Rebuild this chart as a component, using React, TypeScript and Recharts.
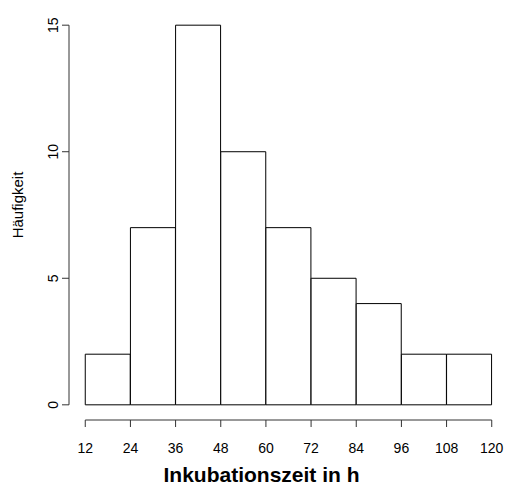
import React from 'react';
import { ComposedChart, Bar, XAxis, YAxis, ReferenceLine } from 'recharts';

// Histogramm der Inkubationszeiten (Klassenbreite 12 h)
const binStarts = [12, 24, 36, 48, 60, 72, 84, 96, 108];
const counts = [2, 7, 15, 10, 7, 5, 4, 2, 2];
const xTicks = [12, 24, 36, 48, 60, 72, 84, 96, 108, 120];
const yTicks = [0, 5, 10, 15];

const binWidth = binStarts[1] - binStarts[0];
const data = binStarts.map((start, i) => ({ mid: start + binWidth / 2, count: counts[i] }));

// R-style axis range: data range extended by 4% on each side
const xPad = (xTicks[xTicks.length - 1] - xTicks[0]) * 0.04;
const yPad = (yTicks[yTicks.length - 1] - yTicks[0]) * 0.04;
const xDomain = [xTicks[0] - xPad, xTicks[xTicks.length - 1] + xPad];
const yDomain = [yTicks[0] - yPad, yTicks[yTicks.length - 1] + yPad];

const FONT = '"Liberation Sans", Arial, Helvetica, sans-serif';
const AXIS = '#333';

const YTick = (props: any) => {
  const { x, y, payload } = props;
  return (
    <text
      transform={`translate(${x}, ${y}) rotate(-90)`}
      textAnchor="middle"
      fontFamily={FONT}
      fontSize={14}
      fill="#000"
    >
      {payload.value}
    </text>
  );
};

const XTitle = (props: any) => {
  const { viewBox } = props;
  // the title in the original sits a bit left of the plot centre
  return (
    <text
      x={viewBox.x + viewBox.width / 2 - 27}
      y={viewBox.y + 62}
      textAnchor="middle"
      fontFamily={FONT}
      fontSize={21}
      fontWeight="bold"
      fill="#000"
    >
      Inkubationszeit in h
    </text>
  );
};

const YTitle = (props: any) => {
  const { viewBox } = props;
  const cy = viewBox.y + viewBox.height / 2 - 10;
  return (
    <text
      transform={`translate(23, ${cy}) rotate(-90)`}
      textAnchor="middle"
      fontFamily={FONT}
      fontSize={15}
      fill="#000"
    >
      Häufigkeit
    </text>
  );
};

export default function App() {
  return (
    <div style={{ position: 'absolute', left: 0, top: 0, background: '#fff' }}>
      <ComposedChart
        width={508}
        height={485}
        data={data}
        margin={{ top: 10, right: 0, bottom: 0, left: 0 }}
        barCategoryGap={0}
        barGap={0}
      >
        <XAxis
          dataKey="mid"
          type="number"
          domain={xDomain}
          allowDataOverflow
          ticks={xTicks}
          interval={0}
          height={65}
          axisLine={false}
          tickSize={7}
          tickMargin={16}
          tickLine={{ stroke: AXIS }}
          tick={{ fill: '#000', fontSize: 14, fontFamily: FONT }}
          label={<XTitle />}
        />
        <YAxis
          type="number"
          domain={yDomain}
          allowDataOverflow
          ticks={yTicks}
          interval={0}
          width={69}
          axisLine={false}
          tickSize={7}
          tickMargin={4}
          tickLine={{ stroke: AXIS }}
          tick={<YTick />}
          label={<YTitle />}
        />
        <ReferenceLine
          segment={[
            { x: xDomain[0], y: yTicks[0] },
            { x: xDomain[0], y: yTicks[yTicks.length - 1] },
          ]}
          stroke={AXIS}
          ifOverflow="visible"
        />
        <ReferenceLine
          segment={[
            { x: xTicks[0], y: yDomain[0] },
            { x: xTicks[xTicks.length - 1], y: yDomain[0] },
          ]}
          stroke={AXIS}
          ifOverflow="visible"
        />
        <Bar dataKey="count" fill="#fff" stroke="#000" strokeWidth={1} isAnimationActive={false} />
      </ComposedChart>
    </div>
  );
}
